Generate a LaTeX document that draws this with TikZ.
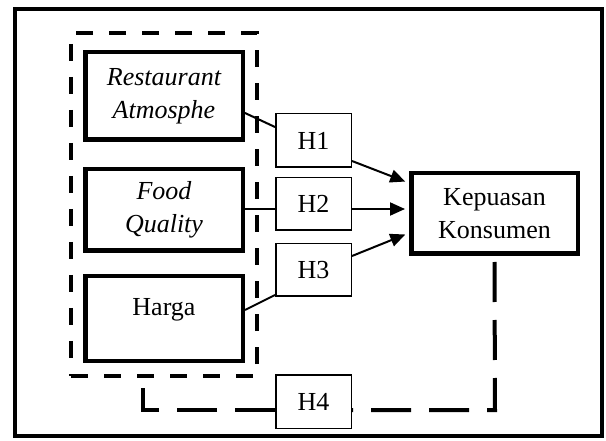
\documentclass[tikz,border=0pt]{standalone}
\usepackage{fontspec}
\setmainfont{Liberation Serif}
\usetikzlibrary{arrows.meta,calc}
\begin{document}
\begin{tikzpicture}[x=1pt,y=-1pt,
  font=\fontsize{26}{33}\selectfont,
  varbox/.style={draw,line width=4.5pt,align=center,inner sep=0pt,minimum width=157.5pt},
  hbox/.style={draw,line width=1.5pt,inner sep=0pt,minimum width=75.5pt,minimum height=53pt},
  conn/.style={line width=2pt},
  arr/.style={line width=2pt,-{Triangle[length=15pt,width=13pt]},shorten >=4pt},
  grpdash/.style={line width=4pt,dash pattern=on 17pt off 16pt},
  loopdash/.style={line width=4pt,dash pattern=on 40pt off 18pt}]
\useasboundingbox (0,0) rectangle (606,441);
\draw[line width=4pt] (15,9) rectangle (602,436);
\node[draw,grpdash,minimum width=186pt,minimum height=343pt,inner sep=0pt] (grp) at (164,204.5) {};
\node[varbox,minimum height=87.5pt] (rest) at (164,96) {\itshape Restaurant\\\itshape Atmosphe};
\node[varbox,minimum height=81.5pt] (food) at (164,210) {\itshape Food\\\itshape Quality};
\node[varbox,minimum height=84.5pt,text height=18pt,text depth=23pt] (harga) at (164,318.5) {Harga};
\node[draw,line width=4.5pt,align=center,inner sep=0pt,minimum width=166.5pt,minimum height=80.5pt] (kep) at (494.5,213.5) {Kepuasan\\Konsumen};
\node[hbox,minimum height=53.5pt] (h1) at (313.5,140.5) {H1};
\node[hbox,minimum height=52.5pt] (h2) at (313.5,204) {H2};
\node[hbox,minimum height=52.5pt] (h3) at (313.5,270) {H3};
\node[hbox,minimum height=53.5pt] (h4) at (313.5,401.5) {H4};
\draw[conn] ([yshift=-17pt]rest.east) -- ([yshift=13.5pt]h1.west);
\draw[conn] ([yshift=1pt]food.east) -- ([yshift=1pt]food.east -| h2.west);
\draw[conn] ([yshift=8.5pt]harga.east) -- ([yshift=2pt]h3.south west);
\draw[arr] ([yshift=-20.5pt]h1.east) -- ([yshift=30.5pt]kep.west);
\draw[arr] ([yshift=1pt]food.east -| h2.east) -- ([yshift=1pt]food.east -| kep.west);
\draw[arr] ([yshift=14pt]h3.east) -- ([yshift=-19.5pt]kep.west);
\coordinate (lr) at (495,410);
\coordinate (ll) at (143,410);
\coordinate (le) at (143,388);
\draw[loopdash] ([yshift=-6pt]kep.south) -- (lr) -- (lr -| h4.east);
\draw[loopdash] (ll -| h4.west) -- (ll) -- (le);
\end{tikzpicture}
\end{document}
